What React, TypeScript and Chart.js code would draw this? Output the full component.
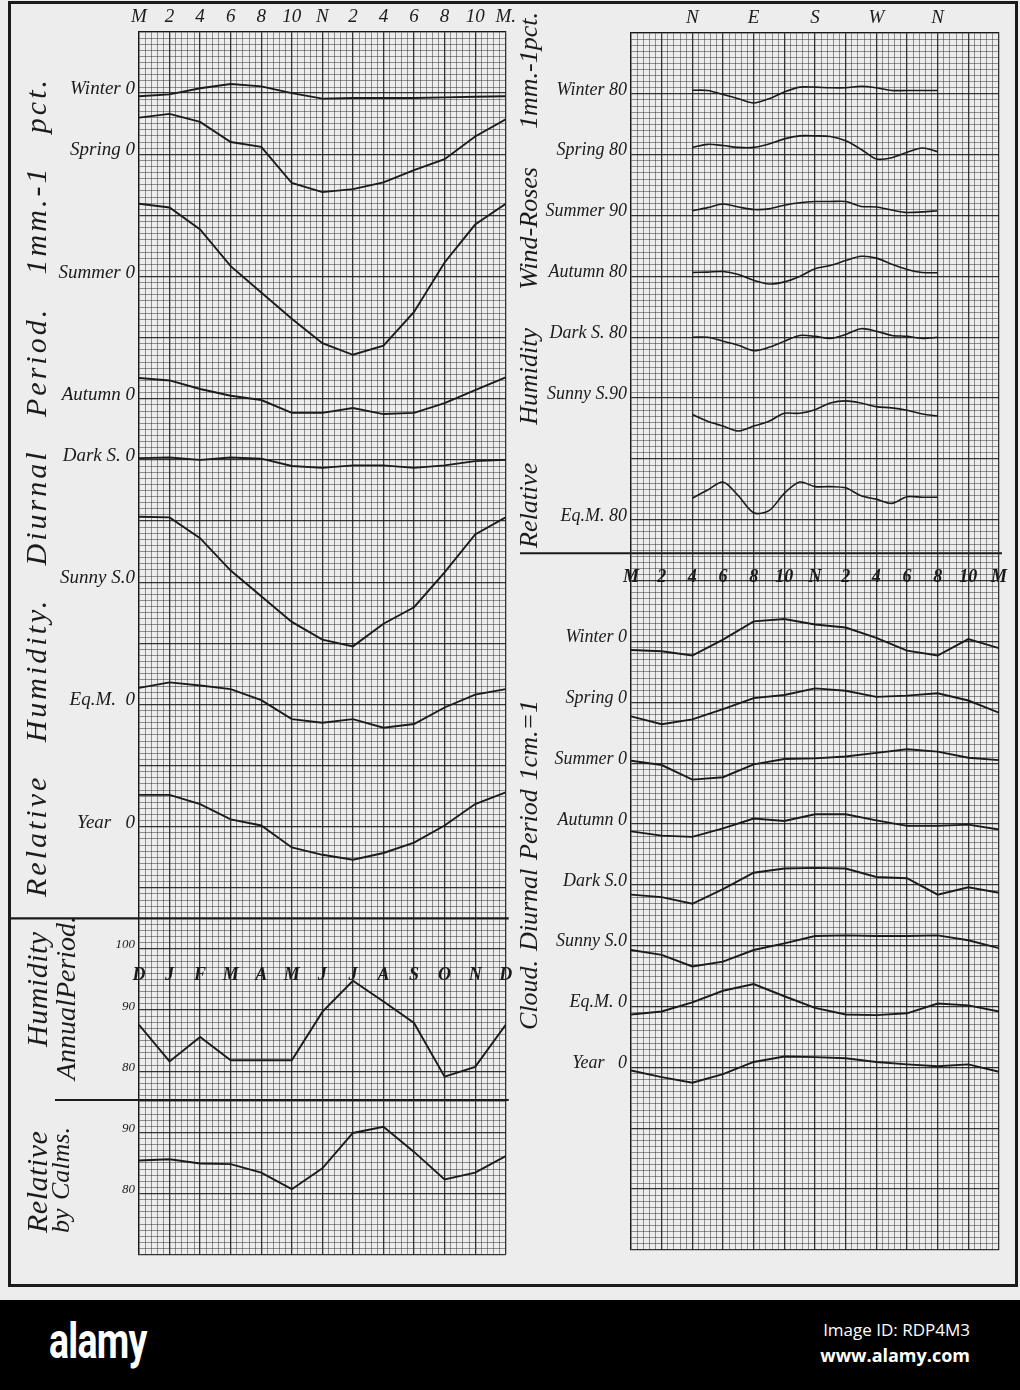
import React, { useEffect, useRef } from 'react';
import { Chart, registerables } from 'chart.js';

Chart.register(...registerables);

const SERIF = "'Liberation Serif', 'DejaVu Serif', 'Times New Roman', serif";
const INK = '#1b1b1b';
const PAPER = '#ededed';
const GRID_MINOR = 'rgba(40,40,40,0.48)';
const GRID_MAJOR = 'rgba(20,20,20,0.85)';

Chart.defaults.font.family = SERIF;

// ---------- categories & tick labels ----------
const HOURS = [0, 2, 4, 6, 8, 10, 12, 14, 16, 18, 20, 22, 24];
const HOUR_TICK_LABELS = ['M', '2', '4', '6', '8', '10', 'N', '2', '4', '6', '8', '10', 'M.'];
const CLOUD_HOUR_LABELS = ['M', '2', '4', '6', '8', '10', 'N', '2', '4', '6', '8', '10', 'M'];
const MONTHS = ['D', 'J', 'F', 'M', 'A', 'M', 'J', 'J', 'A', 'S', 'O', 'N', 'D'];
const MONTH_INDEX = [0, 1, 2, 3, 4, 5, 6, 7, 8, 9, 10, 11, 12];
const DIRECTION_LABELS = ['N', 'E', 'S', 'W', 'N'];
const DIRECTION_DEG = [0, 22.5, 45, 67.5, 90, 112.5, 135, 157.5, 180, 202.5, 225, 247.5, 270, 292.5, 315, 337.5, 360];
const HUM_LABELS = ['Winter 0', 'Spring 0', 'Summer 0', 'Autumn 0', 'Dark S. 0', 'Sunny S.0', 'Eq.M.  0', 'Year   0'];
const WIND_LABELS = ['Winter 80', 'Spring 80', 'Summer 90', 'Autumn 80', 'Dark S. 80', 'Sunny S.90', 'Eq.M. 80'];
const CLOUD_LABELS = ['Winter 0', 'Spring 0', 'Summer 0', 'Autumn 0', 'Dark S.0', 'Sunny S.0', 'Eq.M. 0', 'Year   0'];
const ANNUAL_TICKS = [100, 90, 80];
const CALMS_TICKS = [90, 80];
const WIND_REFS = [80, 80, 90, 80, 80, 90, 80];

// ---------- Relative humidity, diurnal period (departure, pct) ----------
const humWinter = [-0.5, -0.2, 0.8, 1.5, 1.1, 0.0, -0.9, -0.8, -0.8, -0.8, -0.7, -0.6, -0.5];
const humSpring = [6.0, 6.6, 5.3, 2.0, 1.2, -4.7, -6.2, -5.7, -4.6, -2.6, -0.8, 2.9, 5.7];
const humSummer = [11.9, 11.3, 7.7, 1.7, -2.6, -6.9, -10.9, -12.8, -11.3, -5.8, 2.3, 8.5, 11.9];
const humAutumn = [3.4, 3.0, 1.6, 0.5, -0.2, -2.3, -2.3, -1.5, -2.5, -2.3, -0.7, 1.4, 3.5];
const humDark = [0.3, 0.4, 0.0, 0.4, 0.2, -1.0, -1.3, -0.9, -0.9, -1.3, -0.9, -0.2, 0.0];
const humSunny = [10.7, 10.6, 7.2, 1.9, -2.3, -6.5, -9.4, -10.5, -6.8, -4.1, 1.6, 7.8, 10.6];
const humEqM = [2.7, 3.6, 3.1, 2.5, 0.7, -2.4, -3.0, -2.4, -3.8, -3.2, -0.5, 1.6, 2.5];
const humYear = [5.2, 5.2, 3.7, 1.2, 0.2, -3.4, -4.6, -5.4, -4.3, -2.6, 0.2, 3.7, 5.6];

// ---------- Humidity annual period & by calms (pct) ----------
const humAnnual = [87.6, 81.6, 85.6, 81.8, 81.8, 81.8, 89.7, 94.8, 91.4, 87.9, 79.1, 80.7, 87.6];
const humCalms = [85.4, 85.6, 84.9, 84.8, 83.4, 80.7, 84.1, 89.9, 90.9, 86.8, 82.3, 83.4, 86.1];

// ---------- Relative humidity wind-roses (pct) ----------
const windWinter = [80.6, 80.55, 79.9, 79.2, 78.5, 79.2, 80.3, 81.1, 81.1, 81.0, 81.0, 81.25, 81.0, 80.55, 80.55, 80.55, 80.55];
const windSpring = [81.2, 81.7, 81.5, 81.2, 81.2, 81.75, 82.6, 83.1, 83.1, 83.0, 82.3, 80.9, 79.3, 79.5, 80.4, 81.1, 80.5];
const windSummer = [90.8, 91.3, 91.9, 91.4, 91.0, 91.1, 91.7, 92.1, 92.3, 92.3, 92.3, 91.5, 91.4, 90.9, 90.5, 90.6, 90.8];
const windAutumn = [80.65, 80.7, 80.8, 80.3, 79.35, 78.75, 79.1, 80.0, 81.25, 81.8, 82.6, 83.3, 83.0, 82.0, 81.15, 80.65, 80.6];
const windDark = [80.0, 80.0, 79.35, 78.7, 77.8, 78.35, 79.35, 80.3, 80.15, 79.8, 80.45, 81.4, 81.0, 80.3, 80.15, 79.8, 80.0];
const windSunny = [87.3, 86.2, 85.4, 84.6, 85.4, 86.2, 87.5, 87.5, 88.1, 89.2, 89.55, 89.2, 88.6, 88.4, 88.0, 87.4, 87.05];
const windEqM = [83.55, 84.9, 86.2, 83.95, 81.15, 81.5, 84.35, 86.2, 85.45, 85.45, 85.25, 83.95, 83.4, 82.7, 83.8, 83.7, 83.7];

// ---------- Cloud, diurnal period (departure, tenths) ----------
const cloudWinter = [-0.14, -0.16, -0.23, 0.03, 0.33, 0.37, 0.28, 0.23, 0.06, -0.15, -0.23, 0.04, -0.11];
const cloudSpring = [-0.23, -0.36, -0.28, -0.11, 0.07, 0.12, 0.23, 0.19, 0.09, 0.11, 0.15, 0.03, -0.17];
const cloudSummer = [0.04, -0.03, -0.27, -0.23, -0.02, 0.07, 0.08, 0.11, 0.17, 0.23, 0.19, 0.09, 0.05];
const cloudAutumn = [-0.12, -0.19, -0.21, -0.07, 0.09, 0.05, 0.16, 0.16, 0.06, -0.03, -0.03, -0.01, -0.09];
const cloudDark = [-0.16, -0.2, -0.31, -0.07, 0.2, 0.27, 0.28, 0.27, 0.13, 0.11, -0.16, -0.04, -0.13];
const cloudSunny = [-0.07, -0.15, -0.34, -0.26, -0.07, 0.04, 0.16, 0.17, 0.16, 0.16, 0.17, 0.09, -0.04];
const cloudEqM = [-0.13, -0.08, 0.07, 0.26, 0.37, 0.17, -0.02, -0.13, -0.14, -0.11, 0.05, 0.02, -0.08];
const cloudYear = [-0.05, -0.16, -0.25, -0.11, 0.09, 0.18, 0.17, 0.15, 0.09, 0.05, 0.02, 0.05, -0.07];

const HUMIDITY_DIURNAL = [humWinter, humSpring, humSummer, humAutumn, humDark, humSunny, humEqM, humYear];
const WIND_ROSES = [windWinter, windSpring, windSummer, windAutumn, windDark, windSunny, windEqM];
const CLOUD_DIURNAL = [cloudWinter, cloudSpring, cloudSummer, cloudAutumn, cloudDark, cloudSunny, cloudEqM, cloudYear];

// ---------- layout of the squared paper (rows of 1 mm) ----------
const GRID_ROWS = 200;
const GRID_COLS = 60;
const HUM_ZERO_ROWS = [10, 20, 40, 60, 70, 90, 110, 130];
const ANNUAL_REF_ROW = 150;
const CALMS_REF_ROW = 180;
const WIND_ROWS = [10, 20, 30, 40, 50, 60, 80];
const CLOUD_ROWS = [100, 110, 120, 130, 140, 150, 160, 170];
const CLOUD_CELLS_PER_UNIT = 10;

function rowAxis(ref: number, row: number, cellsPerUnit: number) {
  return {
    type: 'linear',
    display: false,
    position: 'left',
    min: ref - (GRID_ROWS - row) / cellsPerUnit,
    max: ref + row / cellsPerUnit,
  };
}

function gridYAxis(labels: Record<number, string>, width: number, smallFrom: number, size: number) {
  const rows = Array.from({ length: GRID_ROWS + 1 }, (_, i) => i);
  return {
    type: 'linear',
    position: 'left',
    reverse: true,
    min: 0,
    max: GRID_ROWS,
    afterBuildTicks: (s: any) => {
      s.ticks = rows.map((v) => ({ value: v }));
    },
    afterFit: (s: any) => {
      s.width = width;
    },
    ticks: {
      autoSkip: false,
      padding: 4,
      labelOffset: -4,
      color: INK,
      font: (c: any) => ({
        family: SERIF,
        style: 'italic',
        size: c.tick && c.tick.value >= smallFrom ? 13 : size,
      }),
      callback: (v: any) => labels[v] ?? '',
    },
    grid: {
      drawTicks: false,
      color: (c: any) => (c.tick && c.tick.value % 10 === 0 ? GRID_MAJOR : GRID_MINOR),
      lineWidth: (c: any) => (c.tick && c.tick.value % 10 === 0 ? 1.3 : 1),
    },
    border: { display: true, color: GRID_MAJOR, width: 1.3 },
  };
}

function gridXAxis(min: number, max: number, labelFor: (i: number) => string, height: number) {
  const step = (max - min) / GRID_COLS;
  const cols = Array.from({ length: GRID_COLS + 1 }, (_, i) => min + i * step);
  return {
    type: 'linear',
    position: 'top',
    min,
    max,
    afterBuildTicks: (s: any) => {
      s.ticks = cols.map((v) => ({ value: v }));
    },
    afterFit: (s: any) => {
      s.height = height;
    },
    ticks: {
      autoSkip: false,
      maxRotation: 0,
      minRotation: 0,
      padding: 4,
      color: INK,
      font: { family: SERIF, style: 'italic', size: 19 },
      callback: (_v: any, i: number) => labelFor(i),
    },
    grid: {
      drawTicks: false,
      color: (c: any) => (c.index % 5 === 0 ? GRID_MAJOR : GRID_MINOR),
      lineWidth: (c: any) => (c.index % 5 === 0 ? 1.3 : 1),
    },
    border: { display: true, color: GRID_MAJOR, width: 1.3 },
  };
}

function lineDs(points: { x: number; y: number }[], xAxisID: string, yAxisID: string, tension = 0, width = 1.9) {
  return {
    data: points,
    xAxisID,
    yAxisID,
    borderColor: INK,
    borderWidth: width,
    pointRadius: 0,
    tension,
    fill: false,
  };
}

function overlayPlugin(o: {
  xScale: string;
  labels: string[];
  at: number[];
  row: number;
  rules: { row: number; from: number; width: number }[];
}) {
  return {
    id: 'overlay',
    afterDatasetsDraw(chart: any) {
      const { ctx, chartArea } = chart;
      const xs = chart.scales[o.xScale];
      const ys = chart.scales.y;
      ctx.save();
      ctx.strokeStyle = INK;
      o.rules.forEach((r) => {
        const y = ys.getPixelForValue(r.row);
        ctx.lineWidth = r.width;
        ctx.beginPath();
        ctx.moveTo(r.from, y);
        ctx.lineTo(chartArea.right + 3, y);
        ctx.stroke();
      });
      ctx.fillStyle = INK;
      ctx.font = `italic bold 18px ${SERIF}`;
      ctx.textAlign = 'center';
      ctx.textBaseline = 'middle';
      const y = ys.getPixelForValue(o.row);
      o.labels.forEach((t, i) => ctx.fillText(t, xs.getPixelForValue(o.at[i]), y));
      ctx.restore();
    },
  };
}

const baseOptions = {
  responsive: false,
  animation: false,
  events: [],
  plugins: { legend: { display: false }, tooltip: { enabled: false } },
};

function makeLeftConfig() {
  const labels: Record<number, string> = {};
  HUM_ZERO_ROWS.forEach((r, i) => (labels[r] = HUM_LABELS[i]));
  ANNUAL_TICKS.forEach((v) => (labels[ANNUAL_REF_ROW + (100 - v)] = String(v)));
  CALMS_TICKS.forEach((v) => (labels[CALMS_REF_ROW + (90 - v)] = String(v)));

  const scales: any = {
    x: gridXAxis(0, 24, (i) => (i % 5 === 0 ? HOUR_TICK_LABELS[i / 5] : ''), 32),
    xm: { type: 'linear', position: 'top', display: false, min: 0, max: 12 },
    y: gridYAxis(labels, 139, 145, 19),
  };
  const datasets: any[] = [];
  HUMIDITY_DIURNAL.forEach((vals, i) => {
    const id = `yh${i}`;
    scales[id] = rowAxis(0, HUM_ZERO_ROWS[i], 1);
    datasets.push(lineDs(HOURS.map((h, j) => ({ x: h, y: vals[j] })), 'x', id));
  });
  scales.ya = rowAxis(100, ANNUAL_REF_ROW, 1);
  datasets.push(lineDs(MONTH_INDEX.map((m, j) => ({ x: m, y: humAnnual[j] })), 'xm', 'ya'));
  scales.yc = rowAxis(90, CALMS_REF_ROW, 1);
  datasets.push(lineDs(MONTH_INDEX.map((m, j) => ({ x: m, y: humCalms[j] })), 'xm', 'yc'));

  return {
    type: 'line',
    data: { datasets },
    options: { ...baseOptions, layout: { padding: { left: 0, top: 0, right: 10, bottom: 12 } }, scales },
    plugins: [
      overlayPlugin({
        xScale: 'xm',
        labels: MONTHS,
        at: MONTH_INDEX,
        row: 154.3,
        rules: [
          { row: 145, from: 10, width: 2.2 },
          { row: 174.7, from: 55, width: 2 },
        ],
      }),
    ],
  };
}

function makeRightConfig() {
  const labels: Record<number, string> = {};
  WIND_ROWS.forEach((r, i) => (labels[r] = WIND_LABELS[i]));
  CLOUD_ROWS.forEach((r, i) => (labels[r] = CLOUD_LABELS[i]));

  const scales: any = {
    x: gridXAxis(
      -90,
      450,
      (i) => (i % 10 === 0 && i >= 10 && i <= 50 ? DIRECTION_LABELS[i / 10 - 1] : ''),
      33,
    ),
    xh: { type: 'linear', position: 'top', display: false, min: 0, max: 24 },
    y: gridYAxis(labels, 116, 999, 18),
  };
  const datasets: any[] = [];
  WIND_ROSES.forEach((vals, i) => {
    const id = `yw${i}`;
    scales[id] = rowAxis(WIND_REFS[i], WIND_ROWS[i], 1);
    datasets.push(lineDs(DIRECTION_DEG.map((d, j) => ({ x: d, y: vals[j] })), 'x', id, 0.3, 1.6));
  });
  CLOUD_DIURNAL.forEach((vals, i) => {
    const id = `yk${i}`;
    scales[id] = rowAxis(0, CLOUD_ROWS[i], CLOUD_CELLS_PER_UNIT);
    datasets.push(lineDs(HOURS.map((h, j) => ({ x: h, y: vals[j] })), 'xh', id));
  });

  return {
    type: 'line',
    data: { datasets },
    options: { ...baseOptions, layout: { padding: { left: 0, top: 0, right: 21, bottom: 20 } }, scales },
    plugins: [
      overlayPlugin({
        xScale: 'xh',
        labels: CLOUD_HOUR_LABELS,
        at: HOURS,
        row: 89.4,
        rules: [{ row: 85.5, from: 5, width: 2 }],
      }),
    ],
  };
}

function ChartCanvas({ left, top, width, height, make }: any) {
  const ref = useRef<HTMLCanvasElement>(null);
  useEffect(() => {
    const chart = new Chart(ref.current as HTMLCanvasElement, make());
    return () => chart.destroy();
  }, []);
  return (
    <canvas
      ref={ref}
      width={width}
      height={height}
      style={{ position: 'absolute', left, top, width, height }}
    />
  );
}

// vertical title reading bottom-to-top; words spread over the given length
function VText({ text, x, bottom, length, size = 30, spacing = 1 }: any) {
  const words = String(text).split(' ');
  return (
    <div
      style={{
        position: 'absolute',
        left: x,
        top: bottom,
        width: length,
        height: size,
        display: 'flex',
        flexWrap: 'nowrap',
        justifyContent: words.length > 1 ? 'space-between' : 'flex-start',
        fontFamily: SERIF,
        fontStyle: 'italic',
        fontSize: size,
        lineHeight: `${size}px`,
        letterSpacing: spacing,
        color: INK,
        whiteSpace: 'nowrap',
        transform: 'rotate(-90deg)',
        transformOrigin: '0 0',
      }}
    >
      {words.map((w, i) => (
        <span key={i}>{w}</span>
      ))}
    </div>
  );
}

export default function App() {
  return (
    <div
      style={{
        position: 'absolute',
        left: 0,
        top: 0,
        width: 1020,
        height: 1390,
        background: PAPER,
        overflow: 'hidden',
      }}
    >
      <div
        style={{
          position: 'absolute',
          left: 8,
          top: 1,
          width: 1010,
          height: 1286,
          border: `3px solid ${INK}`,
          boxSizing: 'border-box',
        }}
      />
      <ChartCanvas left={0} top={0} width={520} height={1270} make={makeLeftConfig} />
      <ChartCanvas left={515} top={0} width={505} height={1270} make={makeRightConfig} />

      <VText text="Relative Humidity. Diurnal Period. 1mm.-1 pct." x={21} bottom={897} length={820} spacing={3} />
      <VText text="Humidity" x={22} bottom={1047} length={114} size={30} spacing={0.5} />
      <VText text="Annual Period." x={52} bottom={1080} length={158} size={28} spacing={0} />
      <VText text="Relative" x={22} bottom={1233} length={98} size={30} spacing={0.5} />
      <VText text="by Calms." x={48} bottom={1233} length={106} size={26} spacing={0} />
      <VText text="Relative Humidity Wind-Roses 1mm.-1pct." x={516} bottom={548} length={536} size={26} spacing={0} />
      <VText text="Cloud. Diurnal Period 1cm.=1" x={516} bottom={1030} length={330} size={26} spacing={0} />

      <div
        style={{
          position: 'absolute',
          left: 0,
          top: 1300,
          width: 1020,
          height: 90,
          background: '#000',
        }}
      >
        <div
          style={{
            position: 'absolute',
            left: 49,
            top: 16,
            fontFamily: 'Roboto, sans-serif',
            fontWeight: 700,
            fontSize: 50,
            lineHeight: '50px',
            color: '#fff',
            transform: 'scaleX(0.75)',
            transformOrigin: '0 0',
            letterSpacing: -1,
          }}
        >
          alamy
        </div>
        <div
          style={{
            position: 'absolute',
            right: 50,
            top: 20,
            fontFamily: "'Open Sans', sans-serif",
            fontSize: 17,
            lineHeight: '20px',
            color: '#fff',
          }}
        >
          Image ID: RDP4M3
        </div>
        <div
          style={{
            position: 'absolute',
            right: 50,
            top: 44,
            fontFamily: "'Open Sans', sans-serif",
            fontWeight: 700,
            fontSize: 18,
            lineHeight: '22px',
            color: '#fff',
          }}
        >
          www.alamy.com
        </div>
      </div>
    </div>
  );
}
